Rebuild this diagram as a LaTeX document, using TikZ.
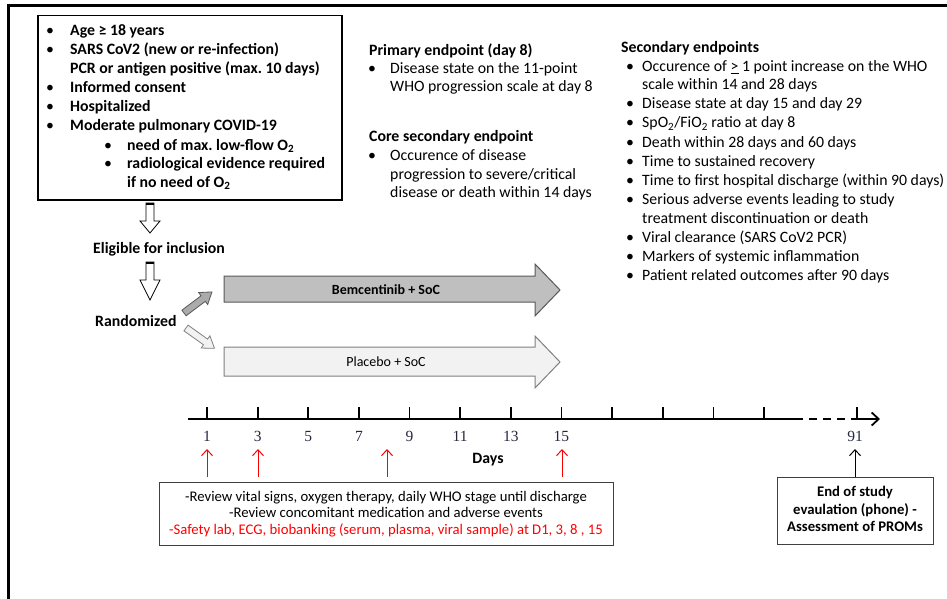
\documentclass[tikz,border=0pt]{standalone}
\usepackage{fontspec}
\setmainfont{Carlito}
\newfontfamily\numfont{Liberation Serif}
\usetikzlibrary{arrows.meta}
\newcommand\lowtwo{\textsubscript{2}}
\definecolor{bemfill}{HTML}{BFBFBF}
\definecolor{bemline}{HTML}{595959}
\definecolor{smallfill}{HTML}{ABABAB}
\definecolor{plcfill}{HTML}{F2F2F2}
\definecolor{plcline}{HTML}{808080}
\definecolor{numcol}{HTML}{262640}
\definecolor{redc}{HTML}{FF0000}
\definecolor{boxline}{HTML}{404040}
\begin{document}
\frenchspacing
\begin{tikzpicture}[x=1pt,y=-1pt,
  ln/.style={anchor=base west, inner sep=0pt, font=\fontsize{15.8}{19}\selectfont},
  lnb/.style={anchor=base west, inner sep=0pt, font=\fontsize{15.8}{19}\selectfont\bfseries},
  bul/.style={anchor=base, inner sep=0pt, font=\fontsize{15.8}{19}\selectfont},
  blockdown/.style={fill=white, draw=black, line width=0.8pt},
  num/.style={inner sep=0pt, font=\numfont\fontsize{15.5}{18}\selectfont, text=numcol},
  redarrow/.style={draw=redc, line width=1pt, -{Straight Barb[length=6pt,width=11pt]}},
  blackarrow/.style={draw=black, line width=1pt, -{Straight Barb[length=6pt,width=11pt]}},
  tick/.style={line width=1.8pt}
]
\useasboundingbox (0,0) rectangle (947,599);
\fill[white] (0,0) rectangle (947,599);
\draw[line width=3pt] (8,599) -- (8,6) -- (947,6);

% inclusion box
\node[draw, line width=1.5pt, minimum width=304pt, minimum height=184pt, anchor=north west, inner sep=0pt] (incl) at (37,15) {};
\node[bul] (b1) at (50,36) {•};
\node[lnb] (t1) at (70,36) {Age ≥ 18 years};
\node[bul] (b2) at (50,55) {•};
\node[lnb] (t2) at (70,55) {SARS CoV2 (new or re-infection)};
\node[lnb] (t3) at (70,74) {PCR or antigen positive (max. 10 days)};
\node[bul] (b4) at (50,93) {•};
\node[lnb] (t4) at (70,93) {Informed consent};
\node[bul] (b5) at (50,112) {•};
\node[lnb] (t5) at (70,112) {Hospitalized};
\node[bul] (b6) at (50,131) {•};
\node[lnb] (t6) at (70,131) {Moderate pulmonary COVID-19};
\node[bul] (b7) at (108,150) {•};
\node[lnb] (t7) at (127,150) {need of max. low-flow O\lowtwo};
\node[bul] (b8) at (108,168) {•};
\node[lnb] (t8) at (127,168) {radiological evidence required};
\node[lnb] (t9) at (127,187) {if no need of O\lowtwo};

% down block arrows
\draw[blockdown] (146,203) -- (154,203) -- (154,221) -- (160,221) -- (150,233) -- (140,221) -- (146,221) -- cycle;
\draw[line width=2.5pt] (146,204) -- (154,204);
\node[inner sep=0pt, font=\fontsize{15.8}{19}\selectfont\bfseries] (elig) at (159,249) {Eligible for inclusion};
\draw[blockdown] (146,262) -- (154,262) -- (154,280) -- (160,280) -- (150,300) -- (140,280) -- (146,280) -- cycle;
\draw[line width=2.5pt] (146,263) -- (154,263);
\node[inner sep=0pt, anchor=west, font=\fontsize{15.8}{19}\selectfont\bfseries] (rand) at (95,321) {Randomized};

% small diagonal arrows
\begin{scope}[shift={(184,313)}, rotate=37]
\draw[fill=smallfill, draw=bemline, line width=0.8pt] (0,-3.5) -- (24,-3.5) -- (24,-7.5) -- (35,0) -- (24,7.5) -- (24,3.5) -- (0,3.5) -- cycle;
\end{scope}
\begin{scope}[shift={(186,328)}, rotate=-35.5]
\draw[fill=plcfill, draw=plcline, line width=0.8pt] (0,-3.5) -- (24,-3.5) -- (24,-7.5) -- (35,0) -- (24,7.5) -- (24,3.5) -- (0,3.5) -- cycle;
\end{scope}

% treatment arrows
\draw[fill=bemfill, draw=bemline, line width=1pt] (224,276) -- (535,276) -- (535,264) -- (560,290) -- (535,316) -- (535,302) -- (224,302) -- cycle;
\node[inner sep=0pt, font=\fontsize{14}{17}\selectfont\bfseries] (bem) at (386,290) {Bemcentinib + SoC};
\draw[fill=plcfill, draw=plcline, line width=1pt] (224,347) -- (535,347) -- (535,336) -- (560,362) -- (535,388) -- (535,376) -- (224,376) -- cycle;
\node[inner sep=0pt, font=\fontsize{14}{17}\selectfont] (plc) at (386,362) {Placebo + SoC};

% middle column
\node[lnb] (p0) at (369,56) {Primary endpoint (day 8)};
\node[bul] (pb1) at (372,74) {•};
\node[ln] (p1) at (390,74) {Disease state on the 11-point};
\node[ln] (p2) at (390,92) {WHO progression scale at day 8};
\node[lnb] (c0) at (369,141) {Core secondary endpoint};
\node[bul] (cb1) at (372,160) {•};
\node[ln] (c1) at (390,160) {Occurence of disease};
\node[ln] (c2) at (390,179) {progression to severe/critical};
\node[ln] (c3) at (390,197) {disease or death within 14 days};

% right column
\node[lnb] (s0) at (621,53) {Secondary endpoints};
\node[bul] (sb1) at (630,72) {•};
\node[ln] (s1) at (642,72) {Occurence of \underline{>} 1 point increase on the WHO};
\node[ln] (s2) at (642,90) {scale within 14 and 28 days};
\node[bul] (sb3) at (630,109) {•};
\node[ln] (s3) at (642,109) {Disease state at day 15 and day 29};
\node[bul] (sb4) at (630,128) {•};
\node[ln] (s4) at (642,128) {SpO\lowtwo/FiO\lowtwo{} ratio at day 8};
\node[bul] (sb5) at (630,147) {•};
\node[ln] (s5) at (642,147) {Death within 28 days and 60 days};
\node[bul] (sb6) at (630,166) {•};
\node[ln] (s6) at (642,166) {Time to sustained recovery};
\node[bul] (sb7) at (630,185) {•};
\node[ln] (s7) at (642,185) {Time to first hospital discharge (within 90 days)};
\node[bul] (sb8) at (630,204) {•};
\node[ln] (s8) at (642,204) {Serious adverse events leading to study};
\node[ln] (s9) at (642,223) {treatment discontinuation or death};
\node[bul] (sb10) at (630,242) {•};
\node[ln] (s10) at (642,242) {Viral clearance (SARS CoV2 PCR)};
\node[bul] (sb11) at (630,261) {•};
\node[ln] (s11) at (642,261) {Markers of systemic inflammation};
\node[bul] (sb12) at (630,280) {•};
\node[ln] (s12) at (642,280) {Patient related outcomes after 90 days};

% timeline
\coordinate (tl0) at (188,419);
\coordinate (tl1) at (795,419);
\coordinate (tl2) at (857,419);
\coordinate (tl3) at (880,419);
\draw[line width=1.8pt] (tl0) -- (tl1);
\draw[line width=1.8pt, dash pattern=on 8pt off 6pt] (tl1) -- (tl2);
\draw[line width=1.8pt, -{Straight Barb[length=7pt,width=13pt]}] (tl2) -- (tl3);
\foreach \k in {0,...,11} {
  \draw[tick] (207+50.64*\k,407) -- (207+50.64*\k,419.9);
}
\draw[tick] (857,407) -- (857,419.9);
\foreach \k/\lab in {0/1,1/3,2/5,3/7,4/9,5/11,6/13,7/15} {
  \node[num] (n\lab) at (207+50.64*\k,436) {\lab};
}
\node[num] (n91) at (855,436) {91};
\node[inner sep=0pt, font=\fontsize{15.8}{19}\selectfont\bfseries] (days) at (488,460) {Days};

% bottom boxes
\node[draw=boxline, line width=0.8pt, minimum width=454pt, minimum height=63pt, inner sep=0pt, anchor=north west] (rev) at (159,482) {};
\node[inner sep=0pt, align=center, font=\fontsize{14.7}{16.5}\selectfont] (revtxt) at (386,514) {-Review vital signs, oxygen therapy, daily WHO stage until discharge\\-Review concomitant medication and adverse events\\\textcolor{redc}{-Safety lab, ECG, biobanking (serum, plasma, viral sample) at D1, 3, 8 , 15}};
\node[draw=boxline, line width=0.8pt, minimum width=156pt, minimum height=67pt, inner sep=0pt, anchor=north west] (eos) at (777,477) {};
\node[inner sep=0pt, align=center, font=\fontsize{14.7}{17.5}\selectfont\bfseries] (eostxt) at (855,509) {End of study\\evaulation (phone) -\\Assessment of PROMs};

% visit arrows
\coordinate (r1) at (207,449);
\coordinate (r3) at (258,449);
\coordinate (r8) at (387,449);
\coordinate (r15) at (562,449);
\draw[redarrow] (r1 |- rev.north) ++(0,-5) -- (r1);
\draw[redarrow] (r3 |- rev.north) ++(0,-5) -- (r3);
\draw[redarrow] (r8 |- rev.north) ++(0,-5) -- (r8);
\draw[redarrow] (r15 |- rev.north) ++(0,-5) -- (r15);
\coordinate (r91) at (855,449);
\draw[blackarrow] (eos.north -| r91) -- (r91);
\end{tikzpicture}
\end{document}
